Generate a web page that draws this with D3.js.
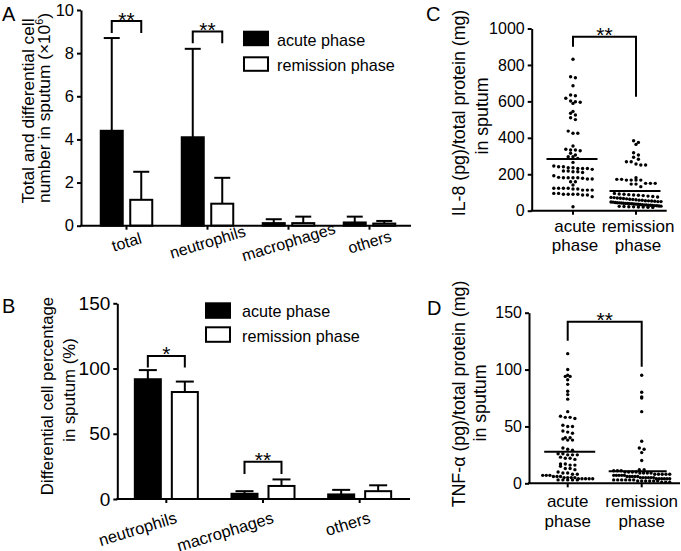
<!DOCTYPE html>
<html><head><meta charset="utf-8">
<script src="https://cdn.jsdelivr.net/npm/d3@7"></script>
<style>
body{margin:0;background:#fff}
svg{display:block;background:#fff}
text{font-family:"Liberation Sans",Arial,Helvetica,sans-serif;fill:#000}
</style>
</head><body>
<svg id="c" width="681" height="551"></svg>
<script>
// ---------------- DATA ----------------
const seriesNames = ["acute phase", "remission phase"];

// Panel A: total and differential cell number (x10^6)
const catsA = ["total", "neutrophils", "macrophages", "others"];
const meanA_acute = [4.4, 4.1, 0.12, 0.15];
const sdA_acute   = [4.3, 4.1, 0.18, 0.27];
const meanA_rem   = [1.2, 1.02, 0.12, 0.10];
const sdA_rem     = [1.3, 1.2, 0.30, 0.12];
const ticksA = [0, 2, 4, 6, 8, 10];
const sigA = [
  {cat: "total", top: 9.49, left: 8.93, right: 8.93, label: "**"},
  {cat: "neutrophils", top: 9.0, left: 8.46, right: 8.46, label: "**"}
];

// Panel B: differential cell percentage (%)
const catsB = ["neutrophils", "macrophages", "others"];
const meanB_acute = [91.8, 4.0, 3.5];
const sdB_acute   = [7.0, 2.0, 3.5];
const meanB_rem   = [82.0, 10.0, 6.0];
const sdB_rem     = [8.0, 5.0, 4.5];
const ticksB = [0, 50, 100, 150];
const sigB = [
  {cat: "neutrophils", top: 109.7, left: 100.7, right: 100.7, label: "*"},
  {cat: "macrophages", top: 28.6, left: 19.2, right: 19.2, label: "**"}
];

// Panel C: IL-8 (pg)/total protein (mg)
const groupsCD = ["acute phase", "remission phase"];
const il8Acute = [831,735,730,686,635,631,617,602,598,595,589,545,535,525,510,500,437,425,425,
  355,337,333,333,329,315,306,296,296,287,265,245,241,241,236,236,232,232,232,227,
  218,218,214,214,210,192,183,181,181,181,181,178,174,174,159,159,141,
  123,123,123,123,119,119,113,113,113,95,95,90,90,90,90,86,86,77,22];
const il8Rem = [384,375,364,318,306,293,282,269,269,256,251,251,181,172,172,168,168,168,168,
  150,150,150,146,146,132,
  95,92,90,88,86,85,83,80,78,75,73,72,70,68,67,65,63,62,60,58,57,55,54,53,52,50,50,48,
  47,45,44,43,42,41,40,40,39,38,37,36,35,34,33,32,31,30,30,29,28,27,
  26,25,24,23,22,21,20,20,19,18];
const il8Means = [284, 108];
const ticksC = [0, 200, 400, 600, 800, 1000];
const sigC = {top: 955, left: 900, right: 626, label: "**"};

// Panel D: TNF-alpha (pg)/total protein (mg)
const tnfAcute = [114,100,95,94,94,91,87,81,78,74,63,59,58,58,57,51,50,50,46,45,44,
  40,40,39,38,38,31,30,29,26,26,25,25,25,23,22,22,21,17,17,16,16,15,13,13,12,
  10,9,9,8,8,7,7,7,6,6,6,5,5,5,5,4,4,4,4,4,3,3,3,3,3];
const tnfRem = [95,80,76,75,63,37,31,30,27,20,
  12,12,11,11,11,10,10,10,10,9,9,9,9,8,8,8,8,8,7,7,7,7,7,6,6,6,6,6,
  5,5,5,5,5,5,4,4,4,4,4,4,3,3,3,3,3,3,2,2,2,2,2,2,1,1,1];
const tnfMeans = [27.8, 10.5];
const ticksD = [0, 50, 100, 150];
const sigD = {top: 142, left: 125.4, right: 102.5, label: "**"};

// ---------------- DRAWING ----------------
const svg = d3.select("#c");
const SW = 2;

function yAxis(y, ticks, x, fs) {
  const g = svg.append("g").attr("transform", `translate(${x},0)`)
    .call(d3.axisLeft(y).tickValues(ticks).tickFormat(d3.format("d"))
      .tickSize(4).tickPadding(3).tickSizeOuter(0));
  g.attr("font-family", null).attr("font-size", null);
  g.select(".domain").attr("stroke", "#000").attr("stroke-width", SW);
  g.selectAll(".tick line").attr("stroke", "#000").attr("stroke-width", SW);
  g.selectAll(".tick text").attr("font-size", fs).attr("fill", "#000");
  return g;
}
function xBaseline(x0, x1, y, tickXs) {
  svg.append("line").attr("x1", x0 - 1).attr("x2", x1).attr("y1", y).attr("y2", y)
    .attr("stroke", "#000").attr("stroke-width", SW);
  svg.append("g").selectAll("line").data(tickXs).join("line")
    .attr("x1", d => d).attr("x2", d => d).attr("y1", y).attr("y2", y + 4)
    .attr("stroke", "#000").attr("stroke-width", SW);
}
function yLabel(lines, xs, ys, fs) {
  lines.forEach((t, i) => {
    const tx = svg.append("text").attr("transform", `translate(${xs[i]},${ys[i]}) rotate(-90)`)
      .attr("text-anchor", "middle").attr("font-size", fs);
    if (Array.isArray(t)) {
      t.forEach(p => {
        const ts = tx.append("tspan").text(p.t);
        if (p.sup) ts.attr("font-size", fs * 0.62).attr("dy", -fs * 0.38);
        if (p.after) ts.attr("dy", fs * 0.38);
      });
    } else tx.text(t);
  });
}
function bracket(x1, x2, yTop, yL, yR, label, fs) {
  svg.append("path").attr("d", `M${x1},${yL}V${yTop}H${x2}V${yR}`)
    .attr("fill", "none").attr("stroke", "#000").attr("stroke-width", SW);
  svg.append("text").attr("x", (x1 + x2) / 2).attr("y", yTop + 5.5)
    .attr("text-anchor", "middle").attr("font-size", fs).text(label);
}
function legend(x, y0, y1, tx, ty0, ty1, h) {
  const rows = [{y: y0, ty: ty0, fill: "#000"}, {y: y1, ty: ty1, fill: "#fff"}];
  rows.forEach((r, i) => {
    svg.append("rect").attr("x", x).attr("y", r.y).attr("width", 24).attr("height", h)
      .attr("fill", r.fill).attr("stroke", "#000").attr("stroke-width", SW);
    svg.append("text").attr("x", tx).attr("y", r.ty).attr("font-size", 16.2).text(seriesNames[i]);
  });
}

function barPanel(o) {
  const y = d3.scaleLinear().domain(o.yDomain).range(o.yRange);
  const x = d3.scaleBand().domain(o.cats).range(o.xRange);
  const inner = d3.scaleBand().domain(seriesNames).range(o.innerRange).paddingInner(o.innerPad);
  const bw = inner.bandwidth();
  const cx = c => x(c) + x.bandwidth() / 2;
  const rows = [];
  o.cats.forEach((c, i) => {
    rows.push({c, s: seriesNames[0], m: o.means[0][i], sd: o.sds[0][i], fill: "#000"});
    rows.push({c, s: seriesNames[1], m: o.means[1][i], sd: o.sds[1][i], fill: "#fff"});
  });
  const g = svg.append("g");
  rows.forEach(r => {
    const xc = cx(r.c) + inner(r.s) + bw / 2;
    g.append("line").attr("x1", xc).attr("x2", xc).attr("y1", y(r.m)).attr("y2", y(r.m + r.sd))
      .attr("stroke", "#000").attr("stroke-width", SW);
    g.append("line").attr("x1", xc - o.capW / 2).attr("x2", xc + o.capW / 2)
      .attr("y1", y(r.m + r.sd)).attr("y2", y(r.m + r.sd))
      .attr("stroke", "#000").attr("stroke-width", SW);
  });
  g.selectAll("rect").data(rows).join("rect")
    .attr("x", r => cx(r.c) + inner(r.s)).attr("width", bw)
    .attr("y", r => y(r.m)).attr("height", r => y(0) - y(r.m))
    .attr("fill", r => r.fill).attr("stroke", "#000").attr("stroke-width", SW);
  yAxis(y, o.ticks, o.axisX, o.tickFs);
  xBaseline(o.axisX, o.axisEnd, y(0), o.cats.map(cx));
  o.cats.forEach(c => {
    svg.append("text")
      .attr("transform", `translate(${cx(c) + o.labDx},${o.labY}) rotate(-17)`)
      .attr("text-anchor", o.labAnchor).attr("dy", "0.35em").attr("font-size", o.labFs).text(c);
  });
  o.sig.forEach(s => {
    const x1 = cx(s.cat) + inner(seriesNames[0]) + bw / 2;
    const x2 = cx(s.cat) + inner(seriesNames[1]) + bw / 2;
    bracket(x1, x2, y(s.top), y(s.left), y(s.right), s.label, 21);
  });
}

function swarm(values, y, cx, binH, step, maxW) {
  const base = y(0);
  const bins = d3.group(values.map((v, i) => ({v, i})), p => Math.floor((base - y(p.v)) / binH));
  const out = [];
  for (const [, arr] of bins) {
    const n = arr.length;
    const s = n > 1 ? Math.min(step, maxW / (n - 1)) : step;
    arr.forEach((p, k) => out.push({x: cx + (k - (n - 1) / 2) * s, y: y(p.v)}));
  }
  return out;
}

function scatterPanel(o) {
  const y = d3.scaleLinear().domain(o.yDomain).range(o.yRange);
  const x = d3.scalePoint().domain(groupsCD).range(o.xRange);
  const g = svg.append("g");
  [o.a, o.b].forEach((vals, gi) => {
    const pts = swarm(vals, y, x(groupsCD[gi]), 4.5, 4.8, o.maxW[gi]);
    g.append("g").selectAll("circle").data(pts).join("circle")
      .attr("cx", d => d.x).attr("cy", d => d.y).attr("r", 1.7).attr("fill", "#000");
    const mx = x(groupsCD[gi]) + o.meanDx[gi];
    g.append("line").attr("x1", mx - o.meanHW[gi]).attr("x2", mx + o.meanHW[gi])
      .attr("y1", y(o.means[gi])).attr("y2", y(o.means[gi]))
      .attr("stroke", "#000").attr("stroke-width", SW);
  });
  yAxis(y, o.ticks, o.axisX, 16);
  xBaseline(o.axisX, o.axisEnd, y(0), groupsCD.map(d => x(d)));
  groupsCD.forEach(gname => {
    gname.split(" ").forEach((p, i) => {
      svg.append("text").attr("x", x(gname) + o.labDx).attr("y", o.labY[i])
        .attr("text-anchor", "middle").attr("font-size", 17).text(p);
    });
  });
  const s = o.sig;
  bracket(x(groupsCD[0]), x(groupsCD[1]), y(s.top), y(s.left), y(s.right), s.label, 21);
}

// Panel A
barPanel({
  cats: catsA, means: [meanA_acute, meanA_rem], sds: [sdA_acute, sdA_rem],
  yDomain: [0, 10], yRange: [225.7, 10], xRange: [86, 410], ticks: ticksA,
  innerRange: [-25.75, 25.75], innerPad: 0.254, capW: 16,
  axisX: 81, axisEnd: 411, tickFs: 16.5,
  labDx: 0, labY: 242, labAnchor: "middle", labFs: 16, sig: sigA
});
legend(244, 31.7, 57.3, 277, 45.5, 70.5, 13.5);
yLabel(["Total and differential cell",
        [{t: "number in sputum (×10"}, {t: "6", sup: true}, {t: ")", after: true}]],
       [33.5, 49.5], [111, 108], 17.3);
svg.append("text").attr("x", 2).attr("y", 20.7).attr("font-size", 20).text("A");

// Panel B
barPanel({
  cats: catsB, means: [meanB_acute, meanB_rem], sds: [sdB_acute, sdB_rem],
  yDomain: [0, 150], yRange: [499, 303.3], xRange: [118, 408], ticks: ticksB,
  innerRange: [-31.5, 31.5], innerPad: 0.297, capW: 18,
  axisX: 117.3, axisEnd: 410, tickFs: 19,
  labDx: 10, labY: 517, labAnchor: "end", labFs: 16.5, sig: sigB
});
legend(206, 303.3, 327.3, 242, 317, 342, 14.5);
yLabel(["Differential cell percentage", "in sputum (%)"], [52.5, 75], [396, 390], 16.8);
svg.append("text").attr("x", 2).attr("y", 313).attr("font-size", 20).text("B");

// Panel C
scatterPanel({
  a: il8Acute, b: il8Rem, means: il8Means, yDomain: [0, 1000], yRange: [210.7, 28.5],
  xRange: [573, 636], ticks: ticksC, axisX: 531.7, axisEnd: 666.7,
  maxW: [50, 50], meanDx: [-1, -1], meanHW: [25.5, 25.5], labDx: 2, labY: [231.7, 251], sig: sigC
});
yLabel(["IL-8 (pg)/total protein (mg)", "in sputum"], [465, 487.5], [113, 116], 17.8);
svg.append("text").attr("x", 426).attr("y", 20.7).attr("font-size", 20).text("C");

// Panel D
scatterPanel({
  a: tnfAcute, b: tnfRem, means: tnfMeans, yDomain: [0, 150], yRange: [483.3, 312.7],
  xRange: [567.7, 641.7], ticks: ticksD, axisX: 529, axisEnd: 680,
  maxW: [50, 56], meanDx: [2, -4], meanHW: [25.5, 29], labDx: 0, labY: [507.3, 526.7], sig: sigD
});
yLabel(["TNF-α (pg)/total protein (mg)", "in sputum"], [465, 485.5], [394, 403], 17.8);
svg.append("text").attr("x", 427).attr("y", 315).attr("font-size", 20).text("D");
</script>
</body></html>
